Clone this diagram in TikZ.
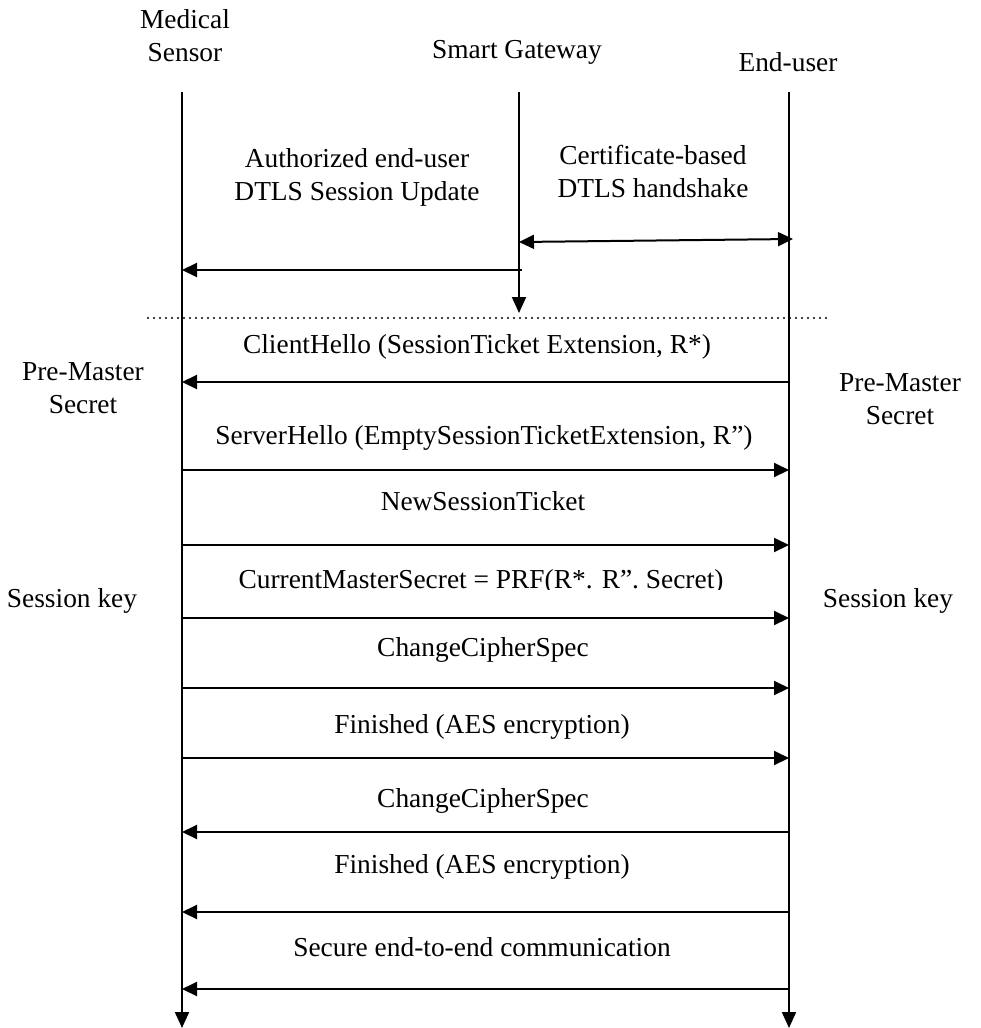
\documentclass[tikz,border=0pt]{standalone}
\usepackage{fontspec}
\setmainfont{Liberation Serif}
\usetikzlibrary{arrows.meta}
\tikzset{
  lbl/.style={font=\fontsize{27.4}{33}\selectfont, align=center, inner sep=0pt},
  life/.style={line width=2pt, -{Triangle[width=14pt,length=16pt]}},
  msg/.style={line width=2pt, -{Triangle[width=14pt,length=15pt]}},
  bimsg/.style={line width=2pt, {Triangle[width=14pt,length=15pt]}-{Triangle[width=14pt,length=15pt]}},
}
\begin{document}
\begin{tikzpicture}[x=1pt,y=-1pt]
\useasboundingbox (0,0) rectangle (981,1028);

% participants
\node[lbl] (ms) at (185,36) {Medical\\Sensor};
\node[lbl] (sg) at (517,52) {Smart Gateway};
\node[lbl] (eu) at (788,62) {End-user};

% lifeline ends
\coordinate (msT) at (182,92);  \coordinate (msB) at (182,1028);
\coordinate (sgT) at (519,92);  \coordinate (sgB) at (519,313);
\coordinate (euT) at (789,92);  \coordinate (euB) at (789,1028);

\draw[life] (msT) -- (msB);
\draw[life] (sgT) -- (sgB);
\draw[life] (euT) -- (euB);

% gateway phase
\node[lbl] (upd) at (357,177) {Authorized end-user\\DTLS Session Update};
\node[lbl] (cert) at (653,171) {Certificate-based\\DTLS handshake};
\coordinate (hsL) at (519,242); \coordinate (hsR) at (793,239);
\draw[bimsg] (hsL) -- (hsR);
\coordinate (updS) at (522,270); \coordinate (updE) at (182,270);
\draw[msg] (updS) -- (updE);

% phase separator
\coordinate (sepL) at (148,318); \coordinate (sepR) at (826,318);
\draw[line width=2.2pt, line cap=round, dash pattern=on 0pt off 6pt] (sepL) -- (sepR);

% side annotations
\node[lbl] (pmL) at (83,388) {Pre-Master\\Secret};
\node[lbl] (pmR) at (900,399) {Pre-Master\\Secret};
\node[lbl] (skL) at (72,601) {Session key};
\node[lbl] (skR) at (888,601) {Session key};

% resumption handshake messages
\node[lbl] (t1) at (477,347) {ClientHello (SessionTicket Extension, R*)};
\draw[msg] (789,382) -- (182,382);

\node[lbl] (t2) at (484,438) {ServerHello (EmptySessionTicketExtension, R'')};
\draw[msg] (182,470) -- (789,470);

\node[lbl] (t3) at (483,501) {NewSessionTicket};
\draw[msg] (182,545) -- (789,545);

% label box cut off just under its baseline
\begin{scope}
  \clip (150,555) rectangle (820,589);
  \node[lbl] (t4) at (481,582) {CurrentMasterSecret = PRF(R*. R''. Secret)};
\end{scope}
\draw[msg] (182,618) -- (789,618);

\node[lbl] (t5) at (483,650) {ChangeCipherSpec};
\draw[msg] (182,688) -- (789,688);

\node[lbl] (t6) at (482,727) {Finished (AES encryption)};
\draw[msg] (182,758) -- (789,758);

\node[lbl] (t7) at (483,801) {ChangeCipherSpec};
\draw[msg] (789,832) -- (182,832);

\node[lbl] (t8) at (482,867) {Finished (AES encryption)};
\draw[msg] (789,912) -- (182,912);

\node[lbl] (t9) at (482,947) {Secure end-to-end communication};
\draw[msg] (789,989) -- (182,989);
\end{tikzpicture}
\end{document}
